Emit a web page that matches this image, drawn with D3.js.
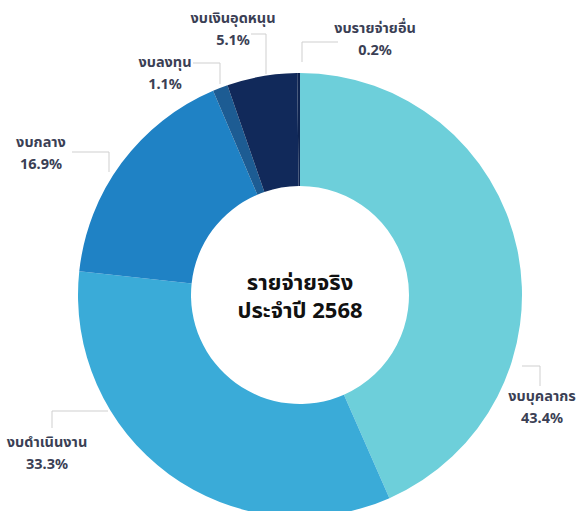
<!DOCTYPE html>
<html>
<head>
<meta charset="utf-8">
<script src="https://cdn.jsdelivr.net/npm/d3@7"></script>
<style>
  body { margin: 0; background: #fff; }
  svg { display: block; font-family: "Noto Sans", "Noto Sans Thai", sans-serif; }
  .lbl { fill: #3b3f55; font-weight: 700; font-size: 14.5px; }
  .leader { fill: none; stroke: #cfcfcf; stroke-width: 1; }
  .center { fill: #111; font-weight: 700; font-size: 22px; }
</style>
</head>
<body>
<svg id="chart" width="576" height="511"></svg>
<script>
// data
const categories = ['งบบุคลากร', 'งบดำเนินงาน', 'งบกลาง', 'งบลงทุน', 'งบเงินอุดหนุน', 'งบรายจ่ายอื่น'];
const shares = [43.4, 33.3, 16.9, 1.1, 5.1, 0.2];
const colors = ['#6dcfda', '#3aabd8', '#1f82c5', '#1d5c93', '#11295a', '#0f2450'];
const centerLines = ['รายจ่ายจริง', 'ประจำปี 2568'];

// label placement (x, y of first text line) and leader line points
const labelPos = [
  { x: 542, y: 396, line: [[522, 366], [540, 366], [540, 386]] },
  { x: 47, y: 442, line: [[108, 411], [52, 411], [52, 428]] },
  { x: 41, y: 142, line: [[72, 152], [109, 152], [109, 172]] },
  { x: 165, y: 62, line: [[193, 63], [220, 63], [220, 84]] },
  { x: 233, y: 18, line: [[251, 34], [266, 34], [266, 74]] },
  { x: 375, y: 28, line: [[338, 42], [302, 42], [302, 62]] }
];

const cx = 300, cy = 295, outerR = 222, innerR = 109;

const svg = d3.select('#chart');
const g = svg.append('g').attr('transform', `translate(${cx},${cy})`);

const pie = d3.pie().sort(null).value(d => d);
const arc = d3.arc().innerRadius(innerR).outerRadius(outerR);

g.selectAll('path.slice')
  .data(pie(shares))
  .enter()
  .append('path')
  .classed('slice', true)
  .attr('d', arc)
  .attr('fill', (d, i) => colors[i]);

// leader lines
const line = d3.line();
svg.selectAll('path.leader')
  .data(labelPos)
  .enter()
  .append('path')
  .classed('leader', true)
  .attr('d', d => line(d.line));

// labels
const lbl = svg.selectAll('g.label')
  .data(categories)
  .enter()
  .append('g')
  .classed('label', true)
  .attr('transform', (d, i) => `translate(${labelPos[i].x},${labelPos[i].y})`);

lbl.append('text')
  .classed('lbl', true)
  .attr('text-anchor', 'middle')
  .attr('dy', '0.35em')
  .text(d => d);

lbl.append('text')
  .classed('lbl', true)
  .attr('text-anchor', 'middle')
  .attr('y', 22)
  .attr('dy', '0.35em')
  .text((d, i) => shares[i].toFixed(1) + '%');

// centre title
svg.selectAll('text.center')
  .data(centerLines)
  .enter()
  .append('text')
  .classed('center', true)
  .attr('x', cx)
  .attr('y', (d, i) => 282 + i * 28)
  .attr('text-anchor', 'middle')
  .attr('dy', '0.35em')
  .text(d => d);
</script>
</body>
</html>
